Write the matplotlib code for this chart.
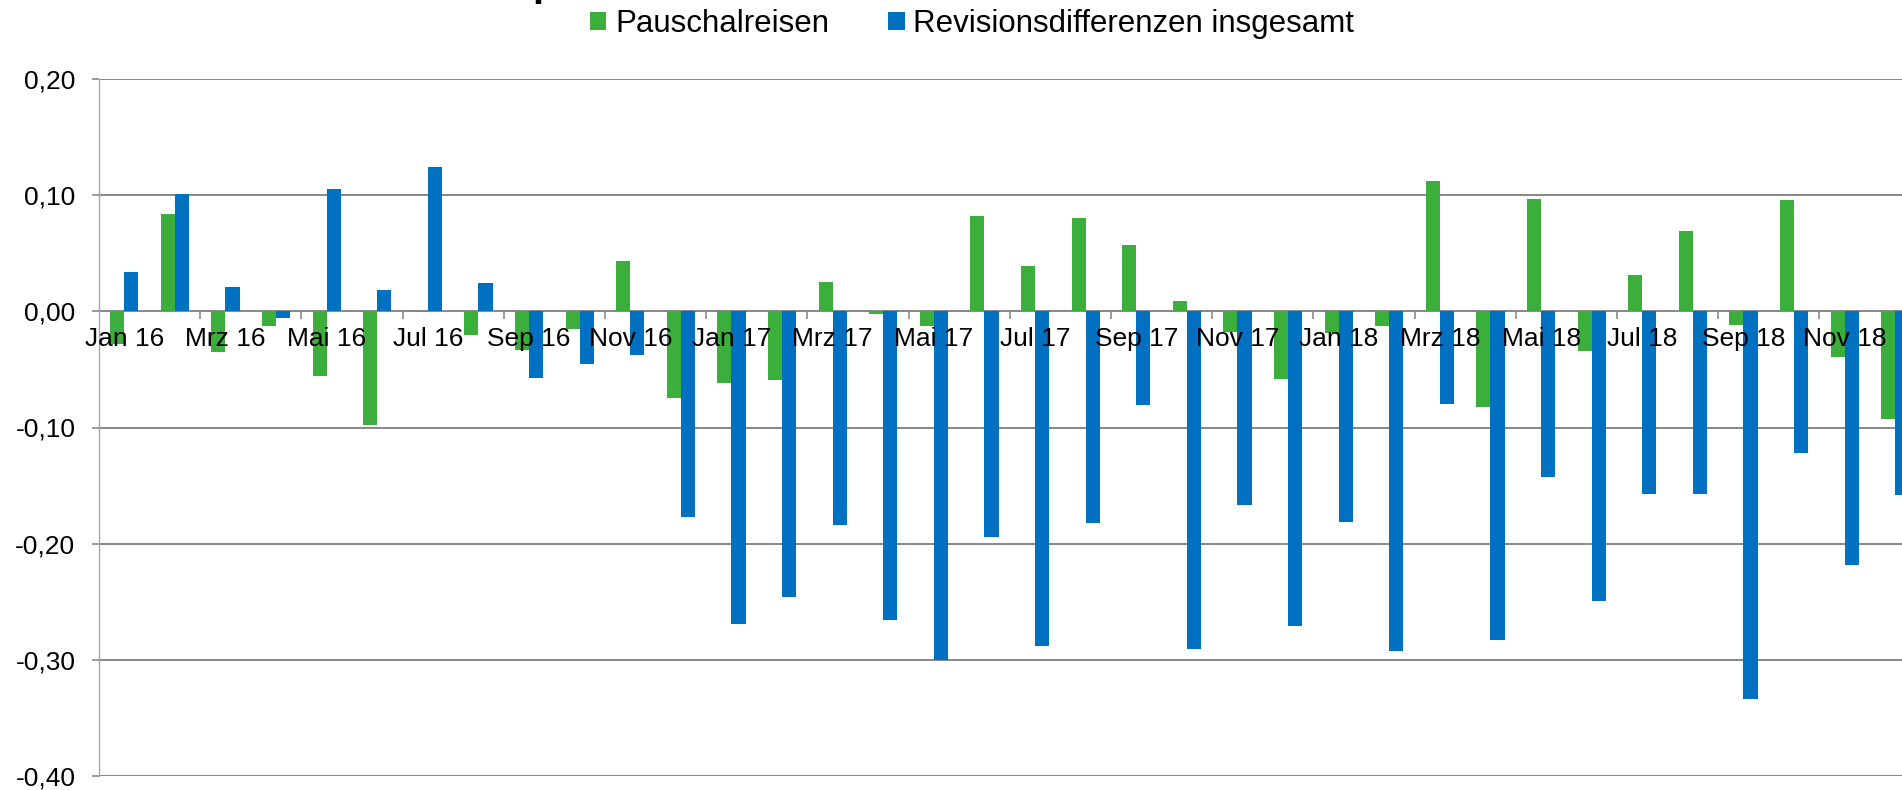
import matplotlib
matplotlib.use("Agg")
import matplotlib.pyplot as plt
from matplotlib.patches import Patch
from matplotlib.ticker import FixedLocator, FuncFormatter

plt.rcParams['font.family'] = ['Liberation Sans', 'DejaVu Sans']

months = ["Jan 16", "Feb 16", "Mrz 16", "Apr 16", "Mai 16", "Jun 16",
          "Jul 16", "Aug 16", "Sep 16", "Okt 16", "Nov 16", "Dez 16",
          "Jan 17", "Feb 17", "Mrz 17", "Apr 17", "Mai 17", "Jun 17",
          "Jul 17", "Aug 17", "Sep 17", "Okt 17", "Nov 17", "Dez 17",
          "Jan 18", "Feb 18", "Mrz 18", "Apr 18", "Mai 18", "Jun 18",
          "Jul 18", "Aug 18", "Sep 18", "Okt 18", "Nov 18", "Dez 18"]

pauschalreisen = [-0.028, 0.084, -0.035, -0.013, -0.056, -0.098,
                  -0.001, -0.020, -0.033, -0.015, 0.043, -0.075,
                  -0.062, -0.059, 0.025, -0.002, -0.013, 0.082,
                  0.039, 0.080, 0.057, 0.009, -0.018, -0.058,
                  -0.019, -0.013, 0.112, -0.082, 0.097, -0.034,
                  0.031, 0.069, -0.012, 0.096, -0.039, -0.093]

revision_gesamt = [0.034, 0.101, 0.021, -0.006, 0.105, 0.018,
                   0.124, 0.024, -0.057, -0.045, -0.038, -0.177,
                   -0.269, -0.246, -0.184, -0.266, -0.300, -0.194,
                   -0.288, -0.182, -0.081, -0.291, -0.167, -0.271,
                   -0.181, -0.292, -0.080, -0.283, -0.143, -0.249,
                   -0.157, -0.157, -0.334, -0.122, -0.218, -0.158]

series_names = ["Pauschalreisen", "Revisionsdifferenzen insgesamt"]
colors = ["#3cae3c", "#0070c0"]
y_ticks = [-0.40, -0.30, -0.20, -0.10, 0.00, 0.10, 0.20]

W, H = 1902, 790
fig = plt.figure(figsize=(W / 100, H / 100), dpi=100)
ax = fig.add_axes([99 / W, 14 / H, 1821.6 / W, 697 / H])

n = len(months)
centers = [i + 0.5 for i in range(n)]
bw = 0.28
ax.bar([c - bw / 2 for c in centers], pauschalreisen, width=bw,
       color=colors[0], zorder=3, linewidth=0)
ax.bar([c + bw / 2 for c in centers], revision_gesamt, width=bw,
       color=colors[1], zorder=3, linewidth=0)

ax.set_xlim(0, n)
ax.set_ylim(-0.40, 0.20)

# y axis
ax.yaxis.set_major_locator(FixedLocator(y_ticks))
ax.yaxis.set_major_formatter(FuncFormatter(lambda v, p: f"{v:.2f}".replace(".", ",")))
ax.grid(axis='y', color='#8a8a8a', linewidth=1.45, zorder=0)
ax.tick_params(axis='y', length=5, width=1.2, color='#8a8a8a', pad=12,
               labelsize=19)

# x axis at zero
ax.spines['bottom'].set_position(('data', 0))
ax.spines['bottom'].set_color('#8a8a8a')
ax.spines['bottom'].set_linewidth(1.45)
ax.spines['bottom'].set_zorder(2)
ax.spines['top'].set_visible(False)
ax.spines['right'].set_visible(False)
ax.spines['left'].set_color('#a6a6a6')
ax.spines['left'].set_linewidth(1.0)

ax.xaxis.set_major_locator(FixedLocator(list(range(2, n + 1, 2))))
ax.xaxis.set_major_formatter(FuncFormatter(lambda v, p: ""))
ax.tick_params(axis='x', which='major', length=5.5, width=1.2, color='#8a8a8a')
ax.xaxis.set_minor_locator(FixedLocator(centers[::2]))
ax.set_xticklabels(months[::2], minor=True)
ax.tick_params(axis='x', which='minor', length=0, pad=11, labelsize=19)
ax.xaxis.set_zorder(5)

# legend
handles = [Patch(facecolor=colors[0]), Patch(facecolor=colors[1])]
fig.legend(handles, series_names, loc='upper left',
           bbox_to_anchor=(590 / W, 1 - 9 / H), ncol=2, frameon=False,
           fontsize=22.5, handlelength=0.52, handleheight=0.55,
           handletextpad=0.28, columnspacing=1.9, borderpad=0,
           borderaxespad=0)

# partially visible title (cut off at top edge)
fig.text(532 / W, 1 + 4.4 / H, "p", fontsize=29, fontweight='bold',
         va='baseline', ha='left')

fig.savefig("out.png", dpi=100)
